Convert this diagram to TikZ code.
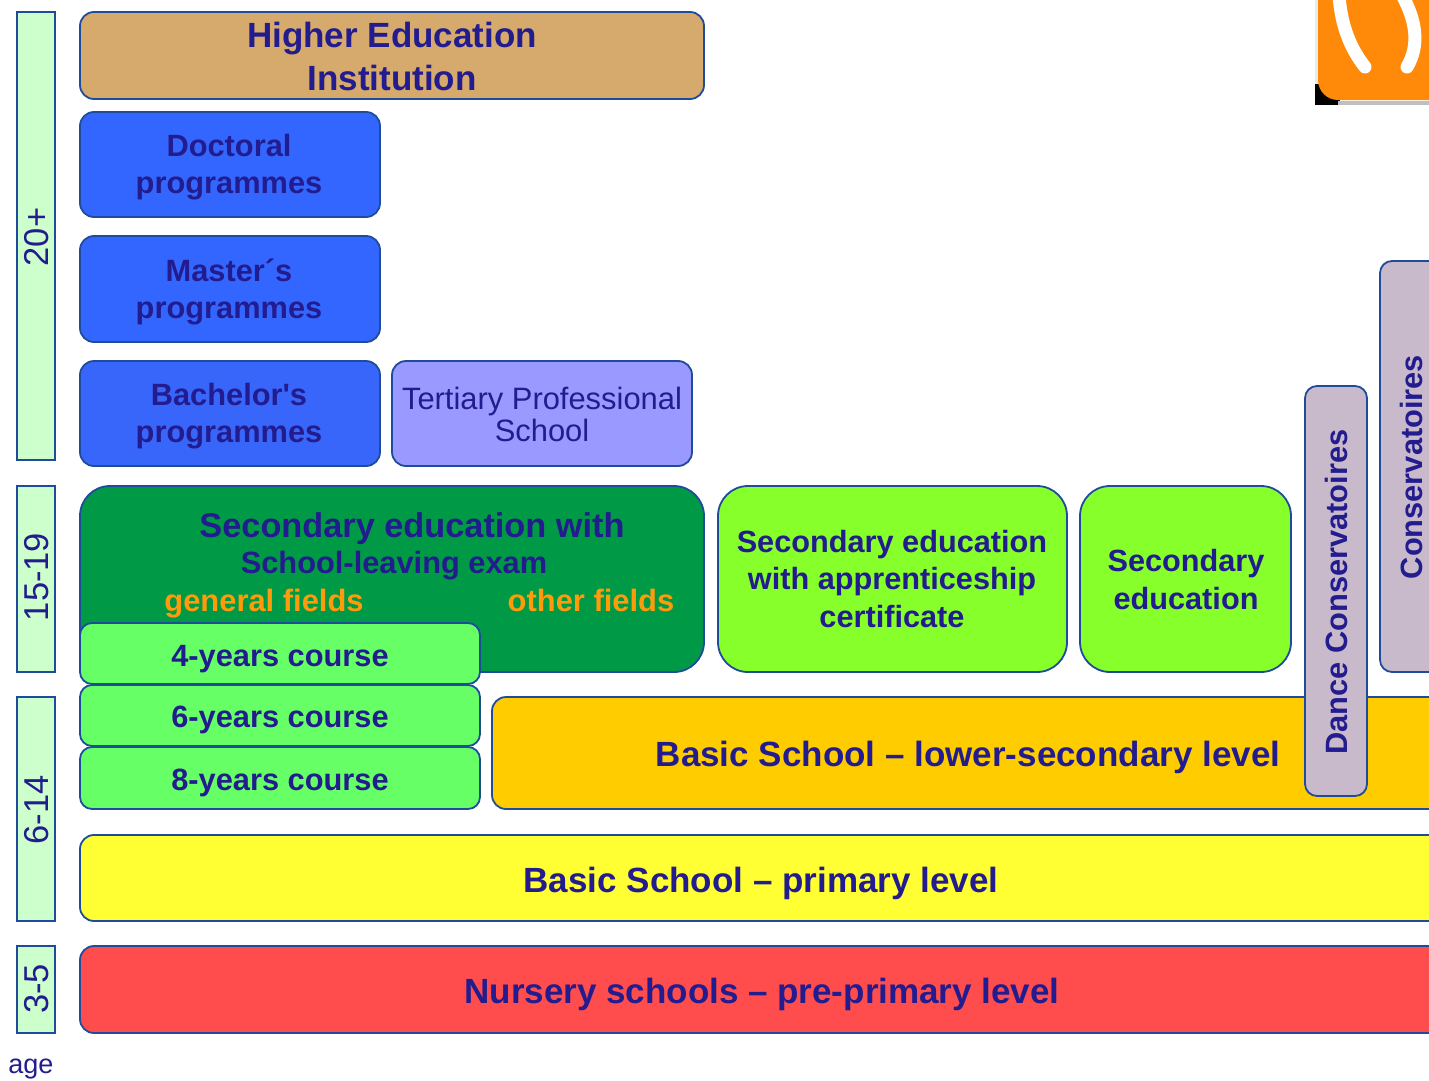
\documentclass[tikz,border=0pt]{standalone}
\usepackage{fontspec}
\setmainfont{Liberation Sans}[Ligatures=TeXOff]
\definecolor{ink}{HTML}{221C8E}
\definecolor{edge}{HTML}{1F4C9A}
\definecolor{agebg}{HTML}{CCFFCC}
\definecolor{hei}{HTML}{D6A96C}
\definecolor{prog}{HTML}{3366FF}
\definecolor{progb}{HTML}{3866FA}
\definecolor{tert}{HTML}{9999FF}
\definecolor{secg}{HTML}{009945}
\definecolor{lime}{HTML}{86FF2B}
\definecolor{course}{HTML}{66FF66}
\definecolor{lower}{HTML}{FFCC00}
\definecolor{prim}{HTML}{FFFF33}
\definecolor{nurs}{HTML}{FF4D4D}
\definecolor{cons}{HTML}{C8B9CB}
\definecolor{logo}{HTML}{FF8A0A}
\definecolor{fieldc}{HTML}{FF9A0A}
\tikzset{x=1pt,y=-1pt,
  box/.style={draw=edge,line width=1.8pt,rounded corners=#1},
  box/.default=14pt,
  agebox/.style={draw=edge,line width=2pt,fill=agebg},
  agetext/.style={text=ink,font=\fontsize{34.5}{40}\selectfont,rotate=90,inner sep=0pt},
  lab/.style={text=ink,font=\fontsize{30.8}{36.5}\selectfont\bfseries,align=center,inner sep=0pt},
  biglab/.style={text=ink,font=\fontsize{35}{40}\selectfont\bfseries,align=center,inner sep=0pt},
  field/.style={text=fieldc,font=\fontsize{30.9}{36}\selectfont\bfseries,inner sep=0pt,anchor=base},
}
\newcommand{\rbox}[7]{% name, style, fill, x0,y0,x1,y1
  \path[#2,fill=#3] (#4,#5) rectangle (#6,#7);
  \coordinate (#1) at ({(#4+#6)/2},{(#5+#7)/2});
}
\begin{document}
\begin{tikzpicture}
\useasboundingbox (0,0) rectangle (1429,1081);
\clip (0,0) rectangle (1429,1081);
% age column
\rbox{a1}{agebox}{agebg}{17}{12}{55}{460}
\rbox{a2}{agebox}{agebg}{17}{486}{55}{672}
\rbox{a3}{agebox}{agebg}{17}{697}{55}{921}
\rbox{a4}{agebox}{agebg}{17}{946}{55}{1033}
\node[agetext] (t1) at (37,237) {20+};
\node[agetext] (t2) at (37,577) {15-19};
\node[agetext] (t3) at (37,810) {6-14};
\node[agetext] (t4) at (37,989) {3-5};
\node[text=ink,font=\fontsize{27}{30}\selectfont,inner sep=0pt] (agel) at (31,1069) {age};
% higher education
\rbox{hb}{box=14pt}{hei}{80}{12}{704}{99}
\node[biglab,font=\fontsize{35}{43}\selectfont\bfseries] (hl) at (392,56) {Higher Education\\Institution};
\rbox{db}{box=14pt}{prog}{80}{112}{380}{217}
\node[lab] (dl) at (229,167) {Doctoral\hspace{6pt}\\programmes};
\rbox{mb}{box=14pt}{prog}{80}{236}{380}{342}
\node[lab] (ml) at (229,292) {Master´s\hspace{6pt}\\programmes};
\rbox{bb}{box=14pt}{progb}{80}{361}{380}{466}
\node[lab] (bl) at (229,416) {Bachelor's\\programmes};
\rbox{tb}{box=14pt}{tert}{392}{361}{692}{466}
\node[lab,font=\fontsize{30.9}{32}\selectfont] (tl) at (542,414) {Tertiary Professional\\School};
% secondary
\rbox{sb}{box=30pt}{secg}{80}{486}{704}{672}
\node[lab,font=\fontsize{34.3}{40}\selectfont\bfseries] (s1) at (412,529) {Secondary education with};
\node[lab] (s2) at (394,566) {School-leaving exam};
\node[field] (gf) at (264,611) {general fields};
\node[field] (of) at (591,611) {other fields};
\rbox{ab}{box=30pt}{lime}{718}{486}{1067}{672}
\node[lab,font=\fontsize{30.7}{37.5}\selectfont\bfseries] (al) at (892,579) {Secondary education\\with apprenticeship\\certificate};
\rbox{eb}{box=30pt}{lime}{1080}{486}{1291}{672}
\node[lab,font=\fontsize{30.7}{38}\selectfont\bfseries] (el) at (1186,580) {Secondary\\education};
% lower-secondary band
\rbox{lb}{box=14pt}{lower}{492}{697}{1500}{809}
\node[biglab] (ll) at (968,757) {Basic School – lower-secondary level};
% course boxes
\rbox{c4}{box=12pt}{course}{80}{623}{480}{684}
\rbox{c6}{box=12pt}{course}{80}{685}{480}{746}
\rbox{c8}{box=12pt}{course}{80}{747}{480}{809}
\node[lab] (c4l) at (280,659) {4-years course};
\node[lab] (c6l) at (280,720) {6-years course};
\node[lab] (c8l) at (280,783) {8-years course};
% primary, nursery
\rbox{pb}{box=14pt}{prim}{80}{835}{1500}{921}
\node[biglab] (pl) at (761,883) {Basic School – primary level};
\rbox{nb}{box=14pt}{nurs}{80}{946}{1500}{1033}
\node[biglab] (nl) at (762,994) {Nursery schools – pre-primary level};
% conservatoires
\rbox{db2}{box=12pt}{cons}{1305}{386}{1367}{796}
\node[lab,rotate=90] (dcl) at (1336,592) {Dance Conservatoires};
\rbox{cb}{box=12pt}{cons}{1380}{261}{1500}{672}
\node[lab,rotate=90] (cl) at (1411,467) {Conservatoires};
% logo
\fill[black] (1315,84) rectangle (1340,105);
\fill[black!25] (1338,101) rectangle (1429,105);
\fill[black!8] (1315,-5) rectangle (1318,84);
\fill[logo,rounded corners=20pt] (1318,-40) rectangle (1460,100);
\draw[white,line width=13pt,line cap=round] (1339,-5) .. controls (1341,25) and (1350,48) .. (1365,67);
\draw[white,line width=13pt,line cap=round] (1402,-5) .. controls (1416,20) and (1420,45) .. (1407,67);
\end{tikzpicture}
\end{document}
